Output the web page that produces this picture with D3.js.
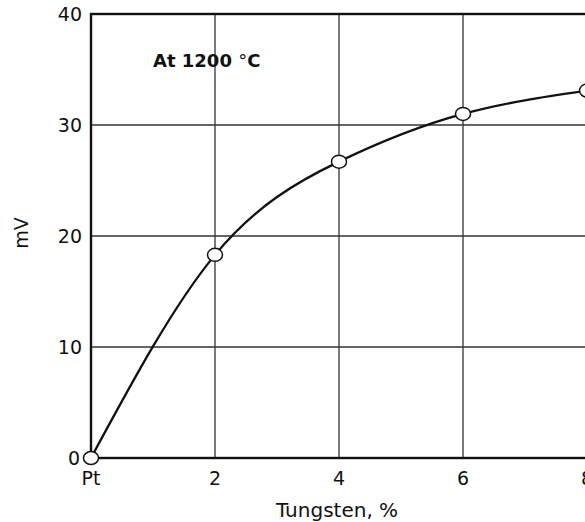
<!DOCTYPE html>
<html>
<head>
<meta charset="utf-8">
<script src="https://cdn.jsdelivr.net/npm/d3@7"></script>
<style>
  body { margin: 0; background: #fff; }
  svg { display: block; }
</style>
</head>
<body>
<div id="chart"></div>
<script>
// tungsten content (%) and emf (mV)
const tungsten = [0, 2, 4, 6, 8];
const emf = [0, 18.3, 26.7, 31.0, 33.1];
const xTicks = [0, 2, 4, 6, 8];
const xTickLabels = ["Pt", "2", "4", "6", "8"];
const yTicks = [0, 10, 20, 30, 40];

const width = 585;
const height = 522;
const marginTop = 14;
const marginLeft = 91;
const plotBottom = 458;
const plotRight = 587;

const x = d3.scaleLinear().domain([0, 8]).range([marginLeft, plotRight]);
const y = d3.scaleLinear().domain([0, 40]).range([plotBottom, marginTop]);

const svg = d3.select("#chart").append("svg")
    .attr("width", width)
    .attr("height", height)
    .style("font-family", "'DejaVu Sans', sans-serif");

// grid
svg.append("g")
    .selectAll("line")
    .data(xTicks.slice(1, -1))
    .join("line")
      .attr("x1", d => x(d)).attr("x2", d => x(d))
      .attr("y1", y(0)).attr("y2", y(40))
      .attr("stroke", "#333")
      .attr("stroke-width", 1.3);

svg.append("g")
    .selectAll("line")
    .data(yTicks.slice(1, -1))
    .join("line")
      .attr("x1", x(0)).attr("x2", x(8))
      .attr("y1", d => y(d)).attr("y2", d => y(d))
      .attr("stroke", "#333")
      .attr("stroke-width", 1.3);

// frame
svg.append("rect")
    .attr("x", x(0)).attr("y", y(40))
    .attr("width", x(8) - x(0))
    .attr("height", y(0) - y(40))
    .attr("fill", "none")
    .attr("stroke", "#111")
    .attr("stroke-width", 2.4);

// tick labels
svg.append("g")
    .selectAll("text")
    .data(yTicks)
    .join("text")
      .attr("x", d => d === 0 ? 80 : 82)
      .attr("y", d => y(d))
      .attr("dy", "0.36em")
      .attr("text-anchor", "end")
      .attr("font-size", 19)
      .attr("fill", "#111")
      .text(d => d);

svg.append("g")
    .selectAll("text")
    .data(xTicks)
    .join("text")
      .attr("x", d => x(d))
      .attr("y", 485)
      .attr("text-anchor", "middle")
      .attr("font-size", 19)
      .attr("fill", "#111")
      .text((d, i) => xTickLabels[i]);

// axis titles
svg.append("text")
    .attr("transform", `translate(28, 233) rotate(-90)`)
    .attr("text-anchor", "middle")
    .attr("font-size", 19)
    .attr("fill", "#111")
    .text("mV");

svg.append("text")
    .attr("x", 337)
    .attr("y", 517)
    .attr("text-anchor", "middle")
    .attr("font-size", 20)
    .attr("fill", "#111")
    .text("Tungsten, %");

const note = svg.append("text")
    .attr("x", 153)
    .attr("y", 67)
    .attr("font-size", 18)
    .attr("font-weight", "bold")
    .attr("fill", "#111");
note.append("tspan").text("At 1200 ");
note.append("tspan").attr("font-weight", "normal").text("°");
note.append("tspan").text("C");

// curve
const pts = tungsten.map((t, i) => [t, emf[i]]);
const line = d3.line()
    .x(d => x(d[0]))
    .y(d => y(d[1]))
    .curve(d3.curveNatural);

svg.append("path")
    .datum(pts)
    .attr("d", line)
    .attr("fill", "none")
    .attr("stroke", "#111")
    .attr("stroke-width", 2.3);

svg.append("g")
    .selectAll("ellipse")
    .data(pts)
    .join("ellipse")
      .attr("cx", d => x(d[0]))
      .attr("cy", d => y(d[1]))
      .attr("rx", 7.5)
      .attr("ry", 6.5)
      .attr("fill", "#fff")
      .attr("stroke", "#111")
      .attr("stroke-width", 1.5);
</script>
</body>
</html>
